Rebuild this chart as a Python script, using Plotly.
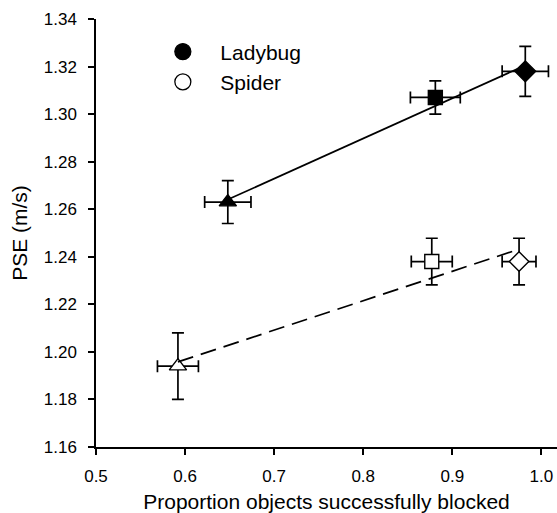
import numpy as np
import plotly.graph_objects as go

# Data
symbols_filled = ["triangle-up", "square", "diamond"]

ladybug_x = [0.648, 0.881, 0.982]
ladybug_y = [1.263, 1.307, 1.318]
ladybug_xerr = [0.026, 0.028, 0.026]
ladybug_yerr = [0.009, 0.007, 0.0105]

spider_x = [0.592, 0.877, 0.975]
spider_y = [1.194, 1.238, 1.238]
spider_xerr = [0.023, 0.023, 0.019]
spider_yerr = [0.014, 0.0098, 0.0098]

x_ticks = [0.5, 0.6, 0.7, 0.8, 0.9, 1.0]
x_ticktext = ["0.5", "0.6", "0.7", "0.8", "0.9", "1.0"]
y_ticks = [1.16, 1.18, 1.20, 1.22, 1.24, 1.26, 1.28, 1.30, 1.32, 1.34]

FONT = "Liberation Sans, Arial, Helvetica, sans-serif"
NB = "\u00a0\u00a0\u00a0"

fig = go.Figure()

def add_group(xs, ys, xe, ye, filled):
    sizes = [15, 14, 16] if filled else [15, 14, 15]
    fig.add_trace(go.Scatter(
        x=xs, y=ys, mode="markers", showlegend=False,
        marker=dict(symbol=symbols_filled, size=sizes, opacity=1,
                    color="black" if filled else "white",
                    line=dict(color="black", width=1.4)),
        error_x=dict(type="data", array=xe, color="black", thickness=1.7, width=6),
        error_y=dict(type="data", array=ye, color="black", thickness=1.7, width=6),
        cliponaxis=False,
    ))

def add_fit(xs, ys, dash):
    xs_a = np.array(xs)
    slope, intercept = np.polyfit(xs_a, np.array(ys), 1)
    fx = [xs_a.min(), xs_a.max()]
    fy = [slope * v + intercept for v in fx]
    fig.add_trace(go.Scatter(
        x=fx, y=fy, mode="lines", showlegend=False,
        line=dict(color="black", width=1.7, dash=dash),
    ))

add_group(ladybug_x, ladybug_y, ladybug_xerr, ladybug_yerr, True)
add_group(spider_x, spider_y, spider_xerr, spider_yerr, False)
add_fit(ladybug_x, ladybug_y, "solid")
add_fit(spider_x, spider_y, "16px,8px")

# legend entries
fig.add_trace(go.Scatter(x=[None], y=[None], mode="markers", name=NB + "Ladybug",
                         marker=dict(symbol="circle", size=16, color="black",
                                     line=dict(color="black", width=1.3))))
fig.add_trace(go.Scatter(x=[None], y=[None], mode="markers", name=NB + "Spider",
                         marker=dict(symbol="circle", size=16, color="white",
                                     line=dict(color="black", width=1.3))))

fig.update_layout(
    width=557, height=513,
    margin=dict(l=96, r=0, t=19, b=66),
    paper_bgcolor="white", plot_bgcolor="white",
    font=dict(family=FONT, size=17, color="black"),
    legend=dict(x=0.145, y=0.971, xanchor="left", yanchor="top",
                font=dict(size=21, family=FONT), bgcolor="rgba(0,0,0,0)",
                tracegroupgap=0, itemsizing="trace"),
    xaxis=dict(range=[0.5, 1.0176], tickvals=x_ticks, ticktext=x_ticktext,
               showgrid=False, zeroline=False, showline=True, linecolor="black",
               linewidth=1.5, ticks="outside", ticklen=6, tickwidth=1.5,
               tickcolor="black", automargin=False, ticklabelstandoff=7,
               title=dict(text="Proportion objects successfully blocked",
                          font=dict(size=21), standoff=14)),
    yaxis=dict(range=[1.16, 1.34], tickvals=y_ticks, tickformat=".2f",
               showgrid=False, zeroline=False, showline=True, linecolor="black",
               linewidth=1.5, ticks="outside", ticklen=6, tickwidth=1.5,
               tickcolor="black", automargin=False, ticklabelstandoff=8,
               title=dict(text="PSE (m/s)", font=dict(size=21), standoff=10)),
)

fig.write_html("out.html")
